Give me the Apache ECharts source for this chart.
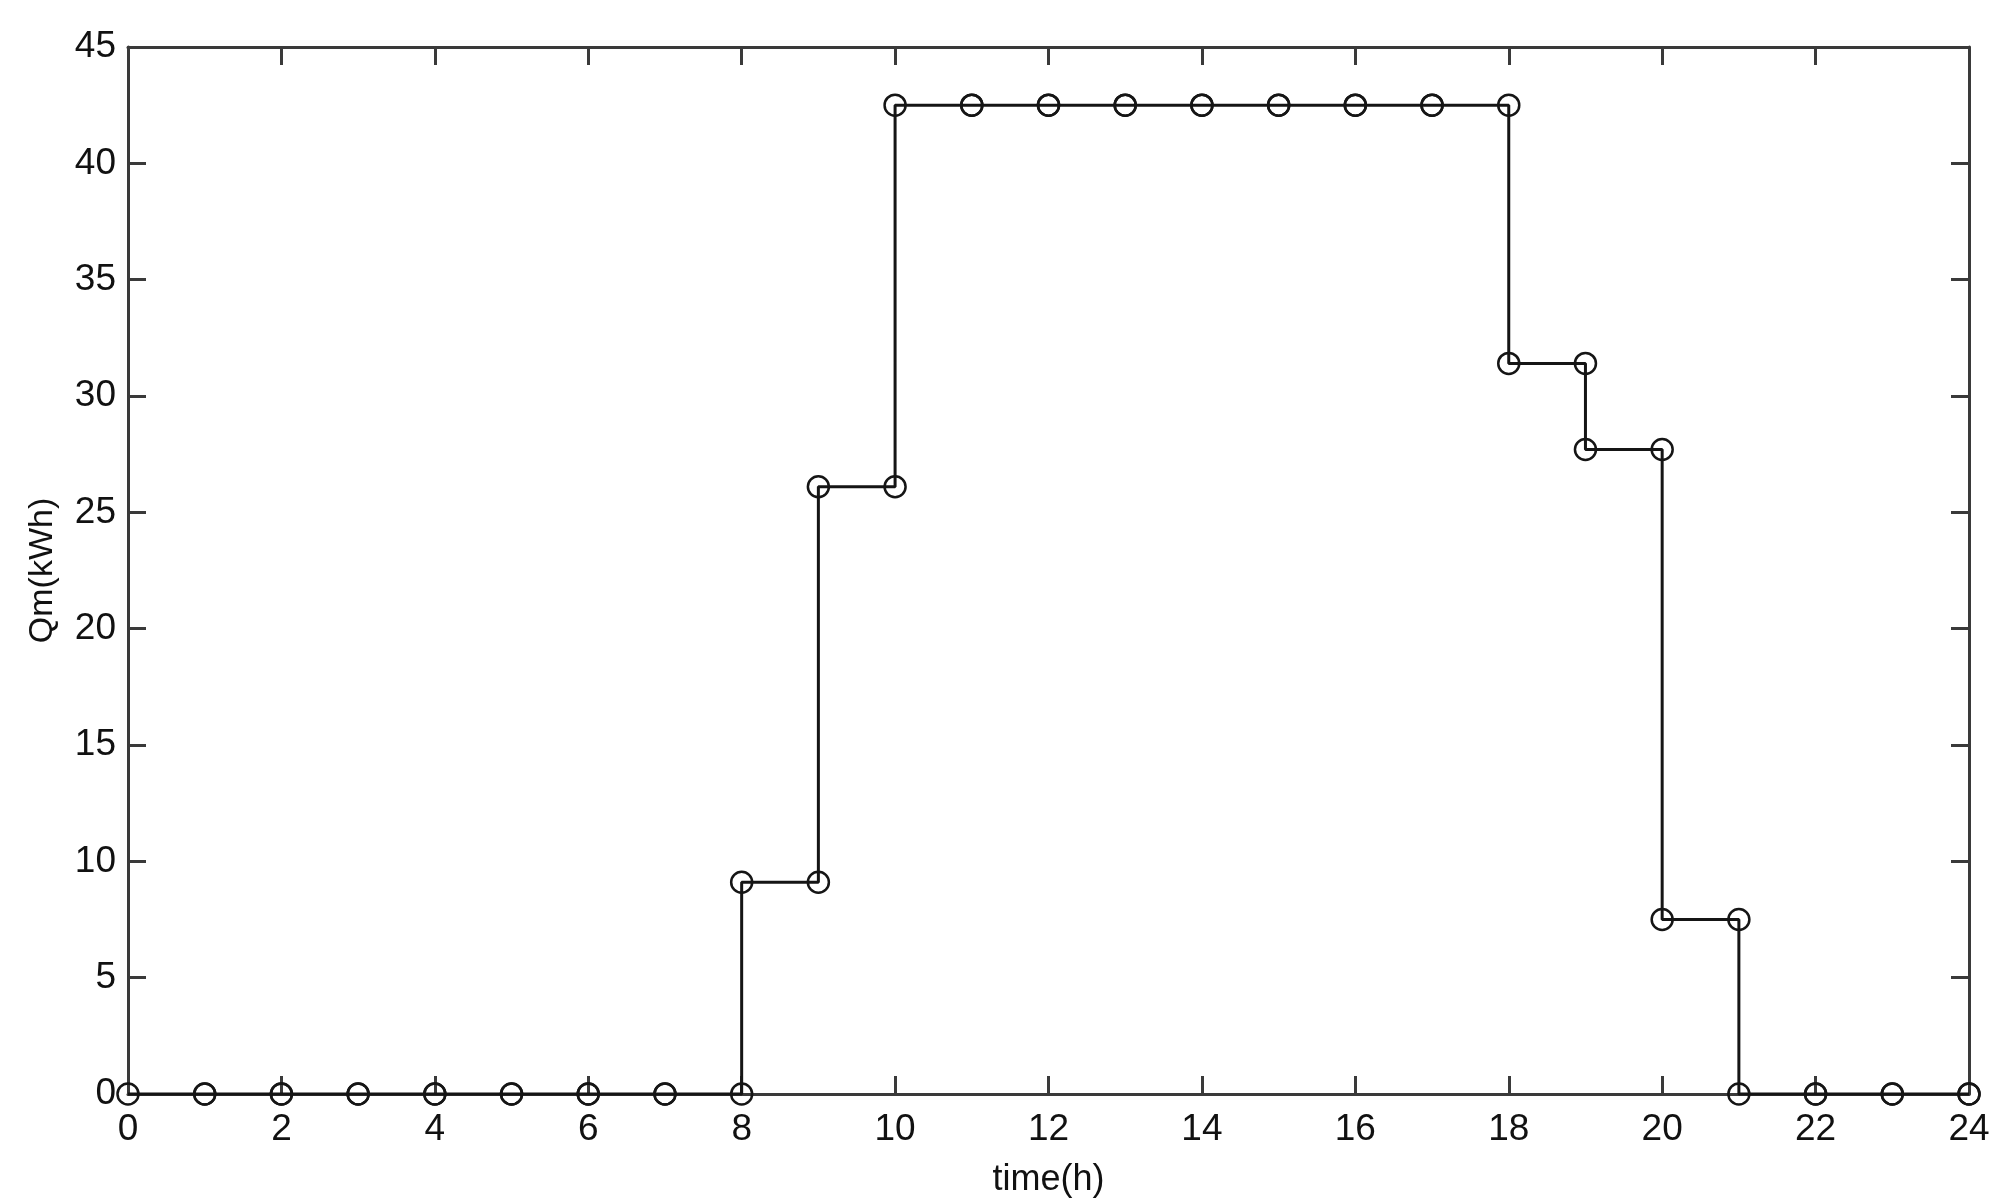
<!DOCTYPE html>
<html>
<head>
<meta charset="utf-8">
<script src="https://cdn.jsdelivr.net/npm/echarts@6/dist/echarts.min.js"></script>
<style>html,body{margin:0;padding:0;background:#fff}#c{width:2000px;height:1204px}</style>
</head>
<body>
<div id="c"></div>
<script>
var hours = [0,1,2,3,4,5,6,7,8,9,10,11,12,13,14,15,16,17,18,19,20,21,22,23,24];
var qm = [0,0,0,0,0,0,0,0,9.1,26.1,42.5,42.5,42.5,42.5,42.5,42.5,42.5,42.5,31.4,27.7,7.5,0,0,0,0];
var xTicks = [0,2,4,6,8,10,12,14,16,18,20,22,24];
var yTicks = [0,5,10,15,20,25,30,35,40,45];

// stairs vertices (as MATLAB stairs draws them)
var pts = [];
for (var i = 0; i < hours.length; i++) {
  pts.push([hours[i], qm[i]]);
  if (i < hours.length - 1) pts.push([hours[i + 1], qm[i]]);
}

var FONT = '"Liberation Sans Narrow", "Liberation Sans", Arial, sans-serif';
var axisCol = '#3a3a3a';
function mkX(pos, show) {
  return {
    type: 'value', position: pos, min: 0, max: 24, interval: 2,
    name: show ? 'time(h)' : '', nameLocation: 'middle', nameGap: 68,
    nameTextStyle: {fontFamily: FONT, fontSize: 36, color: '#111'},
    axisLine: {show: true, onZero: false, lineStyle: {color: axisCol, width: 3}},
    axisTick: {show: true, inside: true, length: 18, lineStyle: {color: axisCol, width: 3}},
    axisLabel: {show: show, fontFamily: FONT, fontSize: 37, color: '#111', margin: 17,
      formatter: function (v) { return xTicks.indexOf(v) >= 0 ? String(v) : ''; }},
    splitLine: {show: false}
  };
}
function mkY(pos, show) {
  return {
    type: 'value', position: pos, min: 0, max: 45, interval: 5,
    name: show ? 'Qm(kWh)' : '', nameLocation: 'middle', nameGap: 68, nameRotate: 90,
    nameTextStyle: {fontFamily: FONT, fontSize: 34, color: '#111'},
    axisLine: {show: true, onZero: false, lineStyle: {color: axisCol, width: 3}},
    axisTick: {show: true, inside: true, length: 18, lineStyle: {color: axisCol, width: 3}},
    axisLabel: {show: show, fontFamily: FONT, fontSize: 37, color: '#111', margin: 12,
      formatter: function (v) { return yTicks.indexOf(v) >= 0 ? String(v) : ''; }},
    splitLine: {show: false}
  };
}

var chart = echarts.init(document.getElementById('c'));
chart.setOption({
  backgroundColor: '#fff',
  animation: false,
  grid: {left: 128, right: 31, top: 47, bottom: 110},
  xAxis: [mkX('bottom', true), mkX('top', false)],
  yAxis: [mkY('left', true), mkY('right', false)],
  series: [{
    type: 'line',
    data: pts,
    xAxisIndex: 0, yAxisIndex: 0,
    symbol: 'circle', symbolSize: 21, showAllSymbol: true,
    lineStyle: {color: '#151515', width: 3},
    itemStyle: {color: 'rgba(0,0,0,0)', borderColor: '#151515', borderWidth: 2.5},
    clip: false
  }]
});
</script>
</body>
</html>
